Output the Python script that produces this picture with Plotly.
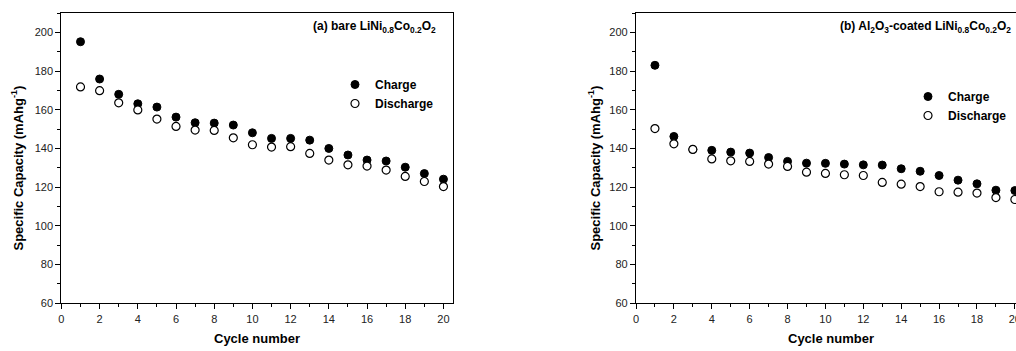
import plotly.graph_objects as go

W, H = 1016, 351

cycles = list(range(1, 21))
a_charge = [195.3, 176.0, 168.1, 163.2, 161.5, 156.3, 153.4, 153.2, 152.2, 148.2,
            145.3, 145.3, 144.4, 140.1, 136.7, 134.1, 133.6, 130.4, 127.1, 124.2]
a_discharge = [171.9, 170.0, 163.7, 160.0, 155.3, 151.5, 149.6, 149.4, 145.6, 142.0,
               140.8, 141.0, 137.5, 134.1, 131.6, 131.0, 128.9, 125.6, 123.0, 120.4]
b_charge = [183.1, 146.3, 139.6, 139.1, 138.2, 137.7, 135.4, 133.4, 132.5, 132.4,
            132.0, 131.6, 131.5, 129.6, 128.3, 126.1, 123.7, 121.8, 118.5, 118.3]
b_discharge = [150.4, 142.5, 139.6, 134.7, 133.7, 133.4, 132.0, 130.8, 127.8, 127.2,
               126.5, 126.1, 122.5, 121.6, 120.4, 117.7, 117.5, 117.0, 114.7, 113.7]

x_ticks = [0, 2, 4, 6, 8, 10, 12, 14, 16, 18, 20]
y_ticks = [60, 80, 100, 120, 140, 160, 180, 200]

FONT = "Liberation Sans, Arial, sans-serif"


def px(x):
    return x / W


def py(y):
    return 1 - y / H


fig = go.Figure()

filled = dict(symbol="circle", size=8, color="black", line=dict(color="black", width=1))
opened = dict(symbol="circle", size=8, color="white", line=dict(color="black", width=1.2))

fig.add_trace(go.Scatter(x=cycles, y=a_charge, mode="markers", marker=filled,
                         name="<b>Charge</b>", xaxis="x", yaxis="y", legend="legend"))
fig.add_trace(go.Scatter(x=cycles, y=a_discharge, mode="markers", marker=opened,
                         name="<b>Discharge</b>", xaxis="x", yaxis="y", legend="legend"))
fig.add_trace(go.Scatter(x=cycles, y=b_charge, mode="markers", marker=filled,
                         name="<b>Charge</b>", xaxis="x2", yaxis="y2", legend="legend2"))
fig.add_trace(go.Scatter(x=cycles, y=b_discharge, mode="markers", marker=opened,
                         name="<b>Discharge</b>", xaxis="x2", yaxis="y2", legend="legend2"))

ydom = [py(303.3), py(13.3)]

xax = dict(range=[0, 20.5], tickvals=x_ticks, ticks="outside", ticklen=5, tickwidth=1,
           tickcolor="black", showline=True, linecolor="black", linewidth=1.2,
           mirror=True, showgrid=False, zeroline=False, automargin=False,
           tickfont=dict(family=FONT, size=11, color="#222"),
           minor=dict(dtick=1, ticks="outside", ticklen=3, tickcolor="black", tickwidth=1))
yax = dict(range=[60, 210], tickvals=y_ticks, ticks="outside", ticklen=5, tickwidth=1,
           tickcolor="black", showline=True, linecolor="black", linewidth=1.2,
           mirror=True, showgrid=False, zeroline=False, automargin=False,
           tickfont=dict(family=FONT, size=11, color="#222"),
           minor=dict(dtick=10, ticks="outside", ticklen=3, tickcolor="black", tickwidth=1))

legfont = dict(family=FONT, size=12, color="black")

fig.update_layout(
    width=W, height=H,
    margin=dict(l=0, r=0, t=0, b=0, autoexpand=False),
    paper_bgcolor="white", plot_bgcolor="white",
    font=dict(family=FONT, color="black"),
    xaxis=dict(xax, domain=[px(61.4), px(453)], anchor="y"),
    yaxis=dict(yax, domain=ydom, anchor="x"),
    xaxis2=dict(xax, range=[0, 20.06], domain=[px(636), 1.0], anchor="y2",
                ticklabeloverflow="allow"),
    yaxis2=dict(yax, domain=ydom, anchor="x2"),
    legend=dict(x=px(335), y=py(70), xanchor="left", yanchor="top",
                bgcolor="rgba(0,0,0,0)", font=legfont,
                tracegroupgap=0, itemwidth=30),
    legend2=dict(x=px(908), y=py(82), xanchor="left", yanchor="top",
                 bgcolor="rgba(0,0,0,0)", font=legfont,
                 tracegroupgap=0, itemwidth=30),
)

annotations = [
    dict(text="<b>(a) bare LiNi<sub>0.8</sub>Co<sub>0.2</sub>O<sub>2</sub></b>",
         x=px(438), y=py(27), xanchor="right", yanchor="middle",
         font=dict(size=12)),
    dict(text="<b>(b) Al<sub>2</sub>O<sub>3</sub>-coated LiNi<sub>0.8</sub>Co<sub>0.2</sub>O<sub>2</sub></b>",
         x=px(1013), y=py(27), xanchor="right", yanchor="middle",
         font=dict(size=12)),
    dict(text="<b>Cycle number</b>", x=px(257), y=py(338), xanchor="center", yanchor="middle",
         font=dict(size=13)),
    dict(text="<b>Cycle number</b>", x=px(831), y=py(338), xanchor="center", yanchor="middle",
         font=dict(size=13)),
    dict(text="<b>Specific Capacity (mAhg<sup>-1</sup>)</b>", x=px(17.5), y=py(168),
         xanchor="center", yanchor="middle", textangle=-90, font=dict(size=13)),
    dict(text="<b>Specific Capacity (mAhg<sup>-1</sup>)</b>", x=px(594.5), y=py(168),
         xanchor="center", yanchor="middle", textangle=-90, font=dict(size=13)),
]
for a in annotations:
    a.update(xref="paper", yref="paper", showarrow=False)
    a["font"] = dict(family=FONT, color="black", **a["font"])
fig.update_layout(annotations=annotations)

fig.write_html("out.html")
